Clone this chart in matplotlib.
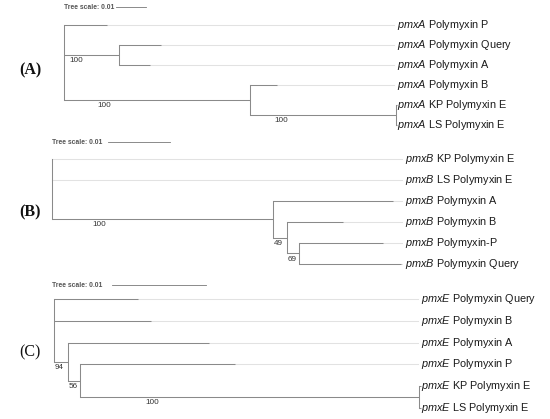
import matplotlib
matplotlib.use('Agg')
import matplotlib.pyplot as plt

plt.rcParams['font.family'] = ['Liberation Sans', 'DejaVu Sans']
plt.rcParams['mathtext.fontset'] = 'custom'
plt.rcParams['mathtext.it'] = 'Liberation Sans:italic'
plt.rcParams['mathtext.rm'] = 'Liberation Sans'

# trees: leaf = (name, branch length), clade = ([children], branch length, support)
tree_a = [("P", 0.0143),
          ([("Query", 0.0140), ("A", 0.0103)], 0.0183, 100),
          ([("B", 0.0090), ([("KP", 0.0003), ("LS", 0.0003)], 0.0487, 100)], 0.0620, 100)]
tree_b = [("KP", 0.0), ("LS", 0.0),
          ([("A", 0.0195),
            ([("B", 0.0090), ([("P", 0.0136), ("Query", 0.0166)], 0.0019, 69)], 0.0023, 49)],
           0.0358, 100)]
tree_c = [("Query", 0.0089), ("B", 0.0103),
          ([("A", 0.0150),
            ([("P", 0.0165), ([("KP", 0.0002), ("LS", 0.0002)], 0.0360, 100)], 0.0013, 56)],
           0.0015, 94)]

names_a = {"P": "Polymyxin P", "Query": "Polymyxin Query", "A": "Polymyxin A",
           "B": "Polymyxin B", "KP": "KP Polymyxin E", "LS": "LS Polymyxin E"}
names_b = {"KP": "KP Polymyxin E", "LS": "LS Polymyxin E", "A": "Polymyxin A",
           "B": "Polymyxin B", "P": "Polymyxin-P", "Query": "Polymyxin Query"}
names_c = {"Query": "Polymyxin Query", "B": "Polymyxin B", "A": "Polymyxin A",
           "P": "Polymyxin P", "KP": "KP Polymyxin E", "LS": "LS Polymyxin E"}

genes = ["pmxA", "pmxB", "pmxE"]
panel_tags = ["(A)", "(B)", "(C)"]
scale_value = 0.01

W, H = 550, 419
fig = plt.figure(figsize=(W / 100, H / 100), dpi=100)

BR = '#8a8a8a'
EXT = '#e2e2e2'

# panel layout in pixels
panels = [
    dict(tree=tree_a, names=names_a, band=(0, 135), root=64, scale=3000, y0=25, dy=20,
         lab=397, sc_txt=(64, 7.5), sc_bar=116, tag=(30, 70), bold=True),
    dict(tree=tree_b, names=names_b, band=(135, 275), root=52, scale=6170, y0=159, dy=21,
         lab=405, sc_txt=(52, 142), sc_bar=108, tag=(30, 212), bold=True),
    dict(tree=tree_c, names=names_c, band=(275, 419), root=54, scale=9400, y0=299, dy=21.8,
         lab=421, sc_txt=(52, 285), sc_bar=112, tag=(30, 352), bold=False),
]


def layout(children, x0, ax, p, counter, px):
    ys = []
    for ch in children:
        if isinstance(ch[0], str):
            name, bl = ch
            y = counter[0]
            counter[0] += 1
            x1 = x0 + bl
            ax.plot([x0, x1], [y, y], color=BR, lw=0.75, solid_capstyle='butt', zorder=3)
            xl = (p['lab'] - p['root'] - 3) * px
            if xl > x1:
                ax.plot([x1, xl], [y, y], color=EXT, lw=0.75, zorder=2)
            ax.text((p['lab'] - p['root']) * px, y,
                    r'$\mathit{' + p['gene'] + '}$ ' + p['names'][name],
                    fontsize=7.8, color='#1a1a1a', va='center', ha='left')
            ys.append(y)
        else:
            sub, bl, sup = ch
            x1 = x0 + bl
            y = layout(sub, x1, ax, p, counter, px)
            ax.plot([x0, x1], [y, y], color=BR, lw=0.75, solid_capstyle='butt', zorder=3)
            lx = x0 + max(0.21 * bl - 6 * px, 0.5 * px)
            ax.text(lx, y + 0.1, str(sup), fontsize=5.9, color='#333333',
                    ha='left', va='top')
            ys.append(y)
    ymid = (ys[0] + ys[-1]) / 2
    ax.plot([x0, x0], [ys[0], ys[-1]], color=BR, lw=0.75, zorder=3)
    return ymid


for p, gene, tag in zip(panels, genes, panel_tags):
    p['gene'] = gene
    top, bot = p['band']
    ax = fig.add_axes([0, 1 - bot / H, 1, (bot - top) / H])
    ax.axis('off')
    px = 1 / p['scale']
    ax.set_xlim(-p['root'] * px, (W - p['root']) * px)
    ax.set_ylim((bot - p['y0']) / p['dy'], (top - p['y0']) / p['dy'])
    layout(p['tree'], 0.0, ax, p, [0], px)

    # tree scale
    tx, ty = p['sc_txt']
    yy = (ty - p['y0']) / p['dy']
    ax.text((tx - p['root']) * px, yy, 'Tree scale: 0.01', fontsize=4.9, fontweight='bold',
            color='#555555', ha='left', va='center')
    xb = (p['sc_bar'] - p['root']) * px
    ax.plot([xb, xb + scale_value], [yy, yy], color='#777777', lw=0.6)

    # panel tag
    gx, gy = p['tag']
    fig.text(gx / W, 1 - gy / H, tag, fontsize=11.5, family='Liberation Serif',
             fontweight='bold' if p['bold'] else 'normal', ha='center', va='center',
             color='#111111')

fig.savefig('out.png', dpi=100)
